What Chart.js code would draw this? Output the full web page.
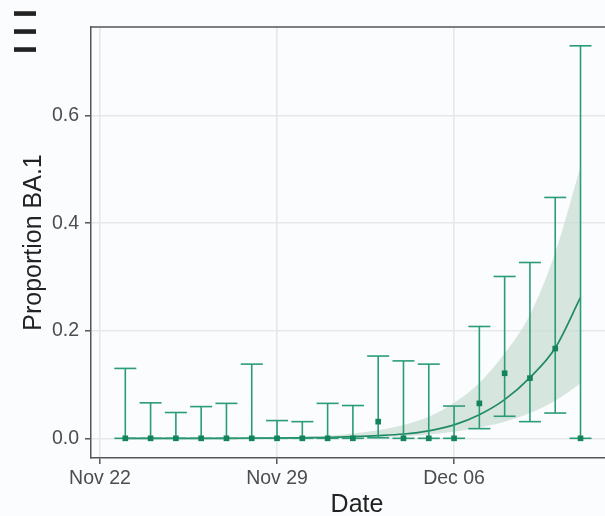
<!DOCTYPE html>
<html><head><meta charset="utf-8">
<script src="https://cdn.jsdelivr.net/npm/chart.js@4.4.0/dist/chart.umd.min.js"></script>
<style>html,body{margin:0;padding:0;background:#fbfcfd;overflow:hidden;width:605px;height:516px}#wrap{width:605px;height:516px;overflow:hidden}canvas{display:block}</style>
</head><body><div id="wrap"><canvas id="c" width="623" height="516"></canvas></div>
<script>
// ---- data ----
const originDate = '2021-11-22';
const dates = ['2021-11-23','2021-11-24','2021-11-25','2021-11-26','2021-11-27','2021-11-28','2021-11-29',
  '2021-11-30','2021-12-01','2021-12-02','2021-12-03','2021-12-04','2021-12-05','2021-12-06',
  '2021-12-07','2021-12-08','2021-12-09','2021-12-10','2021-12-11'];
const proportion = [0,0,0,0,0,0,0,0,0,0,0.031,0,0,0,0.065,0.121,0.112,0.167,0];
const ciLower   = [0,0,0,0,0,0,0,0,0,0,0.001,0,0,0,0.018,0.041,0.031,0.047,0];
const ciUpper   = [0.130,0.066,0.048,0.059,0.065,0.138,0.033,0.031,0.065,0.061,0.153,0.144,0.138,0.060,0.208,0.301,0.327,0.448,0.730];
const fitMean   = [0,0,0,0,0,0.0002,0.0005,0.001,0.0015,0.003,0.005,0.008,0.014,0.025,0.044,0.072,0.113,0.168,0.262];
const fitUpper  = [0.0003,0.0004,0.0005,0.0007,0.0009,0.0013,0.002,0.003,0.005,0.009,0.015,0.025,0.040,0.066,0.103,0.158,0.230,0.345,0.505];
const fitLower  = [0,0,0,0,0,0,0,0,0.0005,0.001,0.002,0.004,0.007,0.012,0.020,0.031,0.047,0.070,0.102];
const xTickDates  = ['2021-11-22','2021-11-29','2021-12-06'];
const xTickLabels = ['Nov 22','Nov 29','Dec 06'];
const yTicks      = [0, 0.2, 0.4, 0.6];
const yTickLabels = ['0.0','0.2','0.4','0.6'];
const panelLabel = 'III';

// ---- helpers ----
const dayOf = d => (Date.parse(d) - Date.parse(originDate)) / 86400000;
const days = dates.map(dayOf);
const xTickDays = xTickDates.map(dayOf);
const pts = arr => days.map((d, i) => ({x: d, y: arr[i]}));

const GREEN = '#2a9c78';
const DARK = '#13835a';
const stems = [];
days.forEach((d, i) => { stems.push({x: d, y: ciLower[i]}, {x: d, y: ciUpper[i]}, {x: d, y: null}); });
const caps = [];
days.forEach((d, i) => { caps.push({x: d, y: ciLower[i]}, {x: d, y: ciUpper[i]}); });

const tickFont = {family: "'Liberation Sans', Arial, sans-serif", size: 19.5};
const titleFont = {family: "'Liberation Sans', Arial, sans-serif", size: 25, lineHeight: 1};

const decor = {
  id: 'decor',
  beforeDraw(chart) {
    const {ctx, width, height} = chart;
    ctx.save(); ctx.fillStyle = '#fbfcfd'; ctx.fillRect(0, 0, width, height); ctx.restore();
  },
  afterDraw(chart) {
    const {ctx, chartArea} = chart;
    ctx.save();
    ctx.strokeStyle = '#555'; ctx.lineWidth = 1.5;
    ctx.beginPath(); ctx.moveTo(chartArea.left, chartArea.top); ctx.lineTo(chartArea.right, chartArea.top); ctx.stroke();
    // panel label, rotated
    ctx.translate(36, 31.5);
    ctx.rotate(-Math.PI / 2);
    ctx.fillStyle = '#222';
    ctx.font = "bold 32px 'Liberation Sans', Arial, sans-serif";
    ctx.textAlign = 'center'; ctx.textBaseline = 'alphabetic';
    const chars = panelLabel.split('');
    chars.forEach((c, i) => ctx.fillText(c, (i - (chars.length - 1) / 2) * 18, 0));
    ctx.restore();
  }
};

new Chart(document.getElementById('c'), {
  type: 'line',
  data: {
    datasets: [
      {label: 'upper', data: pts(fitUpper), borderWidth: 0, pointRadius: 0, fill: '+1',
       backgroundColor: 'rgba(200,220,209,0.7)', borderColor: 'rgba(0,0,0,0)', cubicInterpolationMode: 'monotone', order: 6},
      {label: 'lower', data: pts(fitLower), borderWidth: 0, pointRadius: 0, fill: false,
       borderColor: 'rgba(0,0,0,0)', cubicInterpolationMode: 'monotone', order: 7},
      {label: 'fit', data: pts(fitMean), borderWidth: 1.7, pointRadius: 0, fill: false,
       borderColor: '#1f8a64', cubicInterpolationMode: 'monotone', order: 4},
      {label: 'stems', data: stems, borderWidth: 1.6, pointRadius: 0, fill: false, spanGaps: false,
       borderColor: GREEN, order: 3},
      {label: 'caps', data: caps, showLine: false, pointStyle: 'line', pointRadius: 11, pointBorderWidth: 1.6,
       pointBorderColor: GREEN, pointBackgroundColor: GREEN, order: 2},
      {label: 'points', data: pts(proportion), showLine: false, pointStyle: 'rect', pointRadius: 4, pointBorderWidth: 0,
       pointBackgroundColor: DARK, pointBorderColor: DARK, order: 1}
    ]
  },
  options: {
    responsive: false, animation: false, devicePixelRatio: 1,
    layout: {autoPadding: false, padding: {top: 27, left: 0, right: 0, bottom: 0}},
    plugins: {legend: {display: false}, tooltip: {enabled: false}},
    events: [],
    scales: {
      x: {
        type: 'linear', position: 'bottom', min: -0.356, max: 20.68,
        afterBuildTicks: s => { s.ticks = xTickDays.map(v => ({value: v})); },
        afterFit: s => { s.height = 58; s.paddingLeft = 0; s.paddingRight = 0; },
        ticks: {callback: (v, i) => xTickLabels[i], font: tickFont, color: '#4d4d4d', padding: 3, maxRotation: 0, autoSkip: false},
        grid: {color: '#e5e7e9', lineWidth: 1.6, tickLength: 6, tickColor: '#555', tickWidth: 1.5},
        border: {color: '#555', width: 1.5},
        title: {display: true, text: 'Date', font: titleFont, color: '#222', padding: {top: 0, bottom: -2}}
      },
      y: {
        type: 'linear', position: 'left', min: -0.0366, max: 0.765,
        afterBuildTicks: s => { s.ticks = yTicks.map(v => ({value: v})); },
        afterFit: s => { s.width = 91; s.paddingTop = 0; s.paddingBottom = 0; },
        ticks: {callback: (v, i) => yTickLabels[i], font: tickFont, color: '#4d4d4d', padding: 6},
        grid: {color: '#e5e7e9', lineWidth: 1.6, tickLength: 6, tickColor: '#555', tickWidth: 1.5},
        border: {color: '#555', width: 1.5},
        title: {display: true, text: 'Proportion BA.1', font: titleFont, color: '#222', padding: {top: 22, bottom: 0}}
      }
    }
  },
  plugins: [decor]
});
</script>
</body></html>
